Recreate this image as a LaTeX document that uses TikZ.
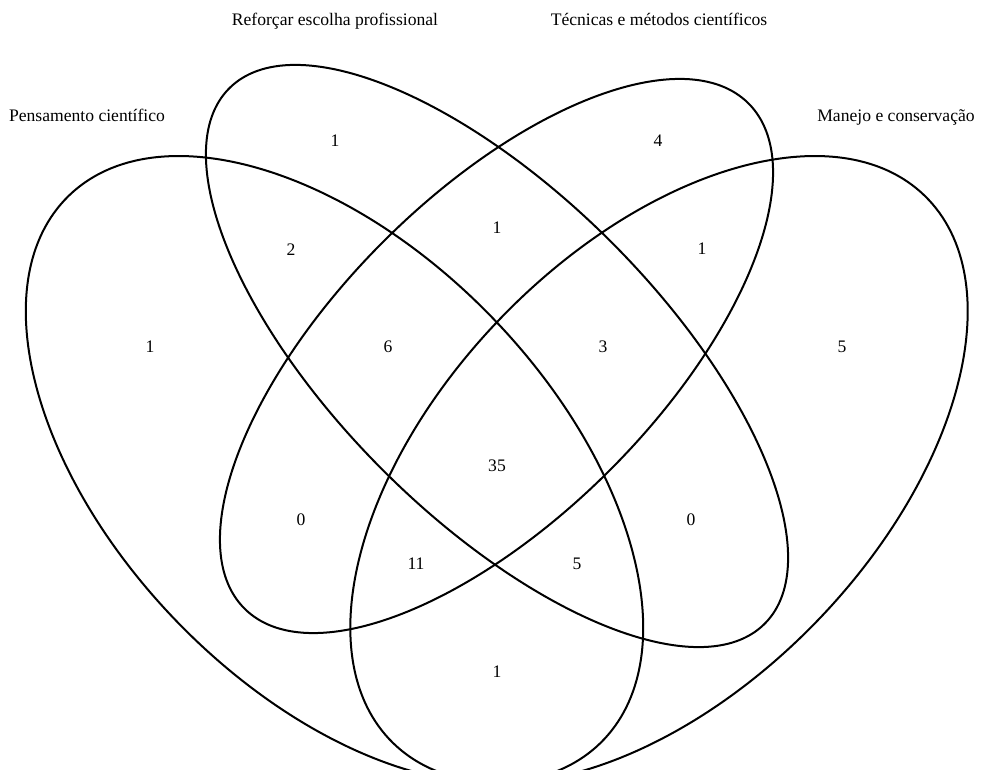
\documentclass[tikz,border=0pt]{standalone}
\usepackage{fontspec}
\setmainfont{Liberation Serif}
\begin{document}
\begin{tikzpicture}[x=1pt,y=1pt,
  vennline/.style={draw=black, line width=2pt},
  setlabel/.style={font=\fontsize{17.6}{20}\selectfont, anchor=base, inner sep=0pt},
  count/.style={font=\fontsize{17.6}{20}\selectfont, inner sep=0pt}]
\useasboundingbox (0,0) rectangle (983,769);
\clip (0,0) rectangle (983,769);
\fill[white] (0,0) rectangle (983,769);
% ellipses
\draw[vennline, rotate around={-45.87:(334.5,299.5)}] (334.5,299.5) ellipse [x radius=381.5, y radius=219];
\draw[vennline, rotate around={-45:(497,413)}] (497,413) ellipse [x radius=378.6, y radius=161.4];
\draw[vennline, rotate around={45.08:(496.5,413)}] (496.5,413) ellipse [x radius=356.8, y radius=160.9];
\draw[vennline, rotate around={45.87:(659,299.5)}] (659,299.5) ellipse [x radius=381.5, y radius=219];
% set labels
\node[setlabel] (lA) at (87,647) {Pensamento científico};
\node[setlabel] (lB) at (335,743) {Reforçar escolha profissional};
\node[setlabel] (lC) at (659,743) {Técnicas e métodos científicos};
\node[setlabel] (lD) at (896,647) {Manejo e conservação};
% counts
\node[count] (nB) at (335,628) {1};
\node[count] (nC) at (658,628) {4};
\node[count] (nAB) at (291,519) {2};
\node[count] (nBC) at (497,541) {1};
\node[count] (nCD) at (702,520) {1};
\node[count] (nA) at (150,422) {1};
\node[count] (nABC) at (388,422) {6};
\node[count] (nBCD) at (603,422) {3};
\node[count] (nD) at (842,422) {5};
\node[count] (nABCD) at (497,303) {35};
\node[count] (nAC) at (301,249) {0};
\node[count] (nBD) at (691,249) {0};
\node[count] (nACD) at (416,205) {11};
\node[count] (nABD) at (577,205) {5};
\node[count] (nAD) at (497,97) {1};
\end{tikzpicture}
\end{document}
